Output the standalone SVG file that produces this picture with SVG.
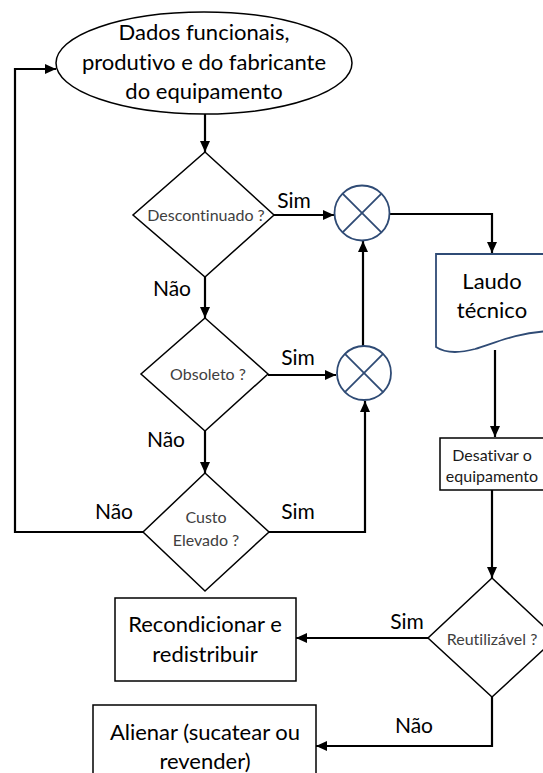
<svg xmlns="http://www.w3.org/2000/svg" width="543" height="773" viewBox="0 0 543 773">
<style>
.bg{fill:#fff}
.shape{fill:#fff;stroke:#000;stroke-width:1.5}
.blue{fill:#fff;stroke:#2F4B75;stroke-width:1.8}
.xline{stroke:#2F4B75;stroke-width:1.8}
.conn{fill:none;stroke:#000;stroke-width:2.2}
text{font-family:Lato,"Open Sans","Liberation Sans",sans-serif;text-anchor:middle;fill:#000;font-variant-ligatures:none;font-feature-settings:"liga" 0,"dlig" 0}
.big{font-size:22px}
.lbl{font-size:21px}
.small{font-size:16px;fill:#404040}
.med{font-size:16px;fill:#1a1a1a}
</style>
<defs>
<marker id="arr" markerUnits="userSpaceOnUse" markerWidth="11" markerHeight="10" refX="11" refY="5" orient="auto">
<path d="M0,0 L11,5 L0,10 z" fill="#000"/>
</marker>
</defs>
<rect class="bg" x="0" y="0" width="543" height="773"/>

<g id="connectors">
<path class="conn" d="M205,114 V152" marker-end="url(#arr)"/>
<path class="conn" d="M274,215 H334" marker-end="url(#arr)"/>
<path class="conn" d="M390,214 H492 V253" marker-end="url(#arr)"/>
<path class="conn" d="M205,277 V318" marker-end="url(#arr)"/>
<path class="conn" d="M268,375 H336" marker-end="url(#arr)"/>
<path class="conn" d="M363,346 V241" marker-end="url(#arr)"/>
<path class="conn" d="M205,431 V473" marker-end="url(#arr)"/>
<path class="conn" d="M143,532 H15 V69 H56" marker-end="url(#arr)"/>
<path class="conn" d="M269,532 H365 V401" marker-end="url(#arr)"/>
<path class="conn" d="M495,350 V437" marker-end="url(#arr)"/>
<path class="conn" d="M492,490 V578" marker-end="url(#arr)"/>
<path class="conn" d="M428,638 H296" marker-end="url(#arr)"/>
<path class="conn" d="M492,697 V746 H316" marker-end="url(#arr)"/>
<text class="lbl" x="294" y="208">Sim</text>
<text class="lbl" x="172" y="296">Não</text>
<text class="lbl" x="298" y="365">Sim</text>
<text class="lbl" x="166" y="447">Não</text>
<text class="lbl" x="114" y="519">Não</text>
<text class="lbl" x="298" y="519">Sim</text>
<text class="lbl" x="407" y="629">Sim</text>
<text class="lbl" x="414" y="733">Não</text>
</g>

<g id="start">
<ellipse class="shape" cx="204" cy="63" rx="148" ry="51"/>
<text class="big" x="204" y="40">Dados funcionais,</text>
<text class="big" x="204" y="70">produtivo e do fabricante</text>
<text class="big" x="204" y="99">do equipamento</text>
</g>

<g id="descontinuado">
<polygon class="shape" points="205,152 274,215 205,277 133,215"/>
<text class="small" x="206" y="221">Descontinuado ?</text>
</g>

<g id="obsoleto">
<polygon class="shape" points="205,318 268,374 205,431 141,374"/>
<text class="small" x="208" y="380">Obsoleto ?</text>
</g>

<g id="custo">
<polygon class="shape" points="205,473 269,532 205,591 143,532"/>
<text class="small" x="206" y="523">Custo</text>
<text class="small" x="206" y="546">Elevado ?</text>
</g>

<g id="junction1">
<circle class="blue" cx="362" cy="213" r="27.5"/>
<line class="xline" x1="342.6" y1="193.6" x2="381.4" y2="232.4"/>
<line class="xline" x1="381.4" y1="193.6" x2="342.6" y2="232.4"/>
</g>

<g id="junction2">
<circle class="blue" cx="364" cy="373" r="27"/>
<line class="xline" x1="344.9" y1="353.9" x2="383.1" y2="392.1"/>
<line class="xline" x1="383.1" y1="353.9" x2="344.9" y2="392.1"/>
</g>

<g id="laudo">
<path class="blue" d="M436,254 H550 V331 C515,333 495,343 475,349 C460,353 445,353 436,347 Z"/>
<text x="492" y="289" style="font-size:22px">Laudo</text>
<text x="492" y="318" style="font-size:22px">técnico</text>
</g>

<g id="desativar">
<rect class="shape" x="440" y="438" width="104" height="52"/>
<text class="med" x="492" y="461">Desativar o</text>
<text class="med" x="492" y="482">equipamento</text>
</g>

<g id="reutilizavel">
<polygon class="shape" points="492,578 556,638 492,697 428,638"/>
<text class="small" x="492" y="645">Reutilizável ?</text>
</g>

<g id="recondicionar">
<rect class="shape" x="115" y="598" width="181" height="83"/>
<text class="big" x="205" y="632">Recondicionar e</text>
<text class="big" x="205" y="662">redistribuir</text>
</g>

<g id="alienar">
<rect class="shape" x="93" y="705" width="223" height="80"/>
<text class="big" x="205" y="740">Alienar (sucatear ou</text>
<text class="big" x="205" y="769">revender)</text>
</g>
</svg>
